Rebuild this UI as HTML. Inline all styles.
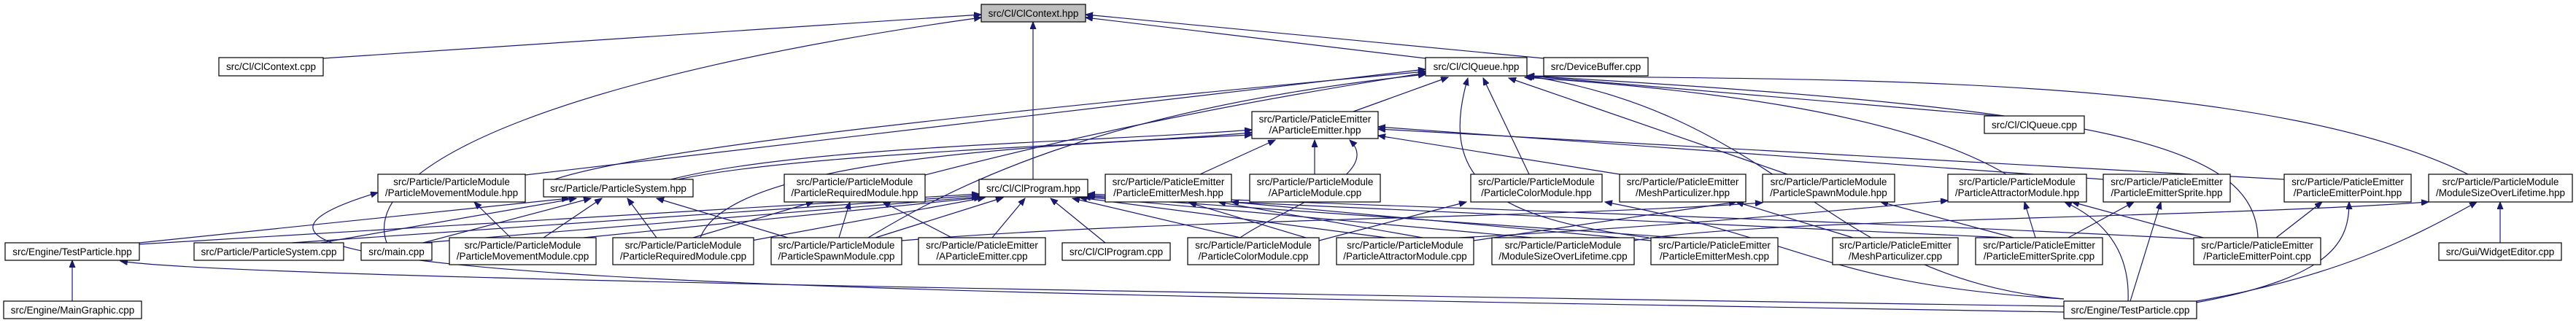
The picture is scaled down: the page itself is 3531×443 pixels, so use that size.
<!DOCTYPE html>
<html><head><meta charset="utf-8"><style>
html,body{margin:0;padding:0;background:#fff;}
svg{display:block;}
text{font-family:"Liberation Sans",Arial,sans-serif;font-size:13.5px;fill:#000;}
.e{fill:none;stroke:#191970;stroke-width:1.2;marker-end:url(#a);}
.n{fill:#fff;stroke:#000;stroke-width:1.2;}
</style></head><body>
<svg width="3531" height="443" viewBox="0 0 3531 443" xmlns="http://www.w3.org/2000/svg">
<defs><marker id="a" markerUnits="userSpaceOnUse" markerWidth="11" markerHeight="9" refX="10" refY="4" orient="auto"><path d="M0,0 L10,4 L0,8 z" fill="#191970" stroke="#191970"/></marker></defs>
<g>
<path class="e" d="M443,80 L1345,20"/>
<path class="e" d="M530,333 C490,220 800,100 1345,24"/>
<path class="e" d="M1416,246 L1416,30"/>
<path class="e" d="M1954,80 L1488,24"/>
<path class="e" d="M2116,80 L1488,20"/>
<path class="e" d="M720,240 L1954,95"/>
<path class="e" d="M760,246 C900,200 1400,150 1954,98"/>
<path class="e" d="M1268,240 C1500,180 1700,140 1954,100"/>
<path class="e" d="M1190,326 C1300,260 1500,150 1954,102"/>
<path class="e" d="M1855,153 L1985,106"/>
<path class="e" d="M2096,239 L2033,107"/>
<path class="e" d="M2260,326 C2050,300 1970,250 2012,107"/>
<path class="e" d="M2450,239 L2068,107"/>
<path class="e" d="M2750,239 C2600,150 2300,120 2090,106"/>
<path class="e" d="M2740,159 L2093,104"/>
<path class="e" d="M3383,239 C3100,100 2500,110 2093,104"/>
<path class="e" d="M3095,326 C3090,200 2900,150 2093,104"/>
<path class="e" d="M2829,410 C2500,380 2450,160 2093,104"/>
<path class="e" d="M930,246 C1100,210 1500,200 1716,182"/>
<path class="e" d="M920,246 C1100,200 1500,195 1716,178"/>
<path class="e" d="M960,326 C1000,220 1400,200 1716,185"/>
<path class="e" d="M1645,239 L1748,192"/>
<path class="e" d="M1802,239 L1802,192"/>
<path class="e" d="M1700,326 C1750,290 1900,240 1850,192"/>
<path class="e" d="M2220,239 L1889,186"/>
<path class="e" d="M2883,246 L1889,174"/>
<path class="e" d="M3131,246 L1889,177"/>
<path class="e" d="M400,333 L1342,268"/>
<path class="e" d="M580,333 L1342,270"/>
<path class="e" d="M800,326 L1345,271"/>
<path class="e" d="M1030,330 L1350,271"/>
<path class="e" d="M1200,326 L1375,271"/>
<path class="e" d="M1360,326 L1405,272"/>
<path class="e" d="M1515,333 L1440,272"/>
<path class="e" d="M1700,326 L1470,272"/>
<path class="e" d="M1900,326 L1480,271"/>
<path class="e" d="M2100,326 L1485,270"/>
<path class="e" d="M2300,326 L1490,269"/>
<path class="e" d="M2750,326 L1491,268"/>
<path class="e" d="M3050,330 C2500,300 1800,280 1491,266"/>
<path class="e" d="M191,335 L1342,266"/>
<path class="e" d="M191,333 L780,272"/>
<path class="e" d="M440,333 L790,272"/>
<path class="e" d="M580,333 L810,272"/>
<path class="e" d="M745,326 L825,272"/>
<path class="e" d="M900,326 L860,272"/>
<path class="e" d="M1080,326 L900,272"/>
<path class="e" d="M2829,428 C1200,400 100,390 518,264"/>
<path class="e" d="M2829,420 C1500,400 300,380 165,358"/>
<path class="e" d="M700,326 L650,277"/>
<path class="e" d="M950,326 L1115,277"/>
<path class="e" d="M1150,326 L1165,277"/>
<path class="e" d="M1305,326 L1210,277"/>
<path class="e" d="M2263,330 L1688,277"/>
<path class="e" d="M1790,326 L1630,278"/>
<path class="e" d="M1950,326 L1670,277"/>
<path class="e" d="M1808,330 L2010,277"/>
<path class="e" d="M2829,410 C2500,390 2480,330 2200,277"/>
<path class="e" d="M2540,326 L2380,277"/>
<path class="e" d="M2020,330 L2380,277"/>
<path class="e" d="M1236,330 C1600,300 2100,300 2416,278"/>
<path class="e" d="M2760,326 L2578,277"/>
<path class="e" d="M2000,326 C2300,310 2500,290 2670,275"/>
<path class="e" d="M2790,326 L2775,277"/>
<path class="e" d="M2917,413 C2920,340 2880,300 2830,277"/>
<path class="e" d="M3020,326 L2840,277"/>
<path class="e" d="M2835,326 L2925,277"/>
<path class="e" d="M2920,413 L2962,277"/>
<path class="e" d="M3120,326 L3183,277"/>
<path class="e" d="M3010,415 C3200,380 3220,330 3220,277"/>
<path class="e" d="M2240,330 C2400,300 3000,300 3329,277"/>
<path class="e" d="M3427,333 L3427,277"/>
<path class="e" d="M3011,413 C3200,380 3300,330 3395,277"/>
<path class="e" d="M99,413 L99,357"/>
</g>
<g>
<rect x="1345" y="6" width="143" height="24" fill="#bfbfbf" stroke="#000" stroke-width="1.2"/><text x="1416.5" y="23" text-anchor="middle">src/Cl/ClContext.hpp</text>
<rect class="n" x="300" y="79" width="143" height="25"/><text x="371.5" y="96" text-anchor="middle">src/Cl/ClContext.cpp</text>
<rect class="n" x="1954" y="79" width="139" height="25"/><text x="2023.5" y="96" text-anchor="middle">src/Cl/ClQueue.hpp</text>
<rect class="n" x="2116" y="79" width="143" height="25"/><text x="2187.5" y="96" text-anchor="middle">src/DeviceBuffer.cpp</text>
<rect class="n" x="1716" y="153" width="173" height="37"/><text x="1802.5" y="168" text-anchor="middle">src/Particle/PaticleEmitter</text><text x="1802.5" y="183" text-anchor="middle">/AParticleEmitter.hpp</text>
<rect class="n" x="2720" y="159" width="137" height="24"/><text x="2788.5" y="176" text-anchor="middle">src/Cl/ClQueue.cpp</text>

<rect class="n" x="518" y="239" width="202" height="38"/><text x="619" y="254" text-anchor="middle">src/Particle/ParticleModule</text><text x="619" y="269" text-anchor="middle">/ParticleMovementModule.hpp</text>
<rect class="n" x="745" y="246" width="205" height="24"/><text x="847.5" y="263" text-anchor="middle">src/Particle/ParticleSystem.hpp</text>
<rect class="n" x="1075" y="239" width="193" height="38"/><text x="1171.5" y="254" text-anchor="middle">src/Particle/ParticleModule</text><text x="1171.5" y="269" text-anchor="middle">/ParticleRequiredModule.hpp</text>
<rect class="n" x="1342" y="246" width="149" height="24"/><text x="1416.5" y="263" text-anchor="middle">src/Cl/ClProgram.hpp</text>
<rect class="n" x="1515" y="239" width="173" height="38"/><text x="1601.5" y="254" text-anchor="middle">src/Particle/PaticleEmitter</text><text x="1601.5" y="269" text-anchor="middle">/ParticleEmitterMesh.hpp</text>
<rect class="n" x="1713" y="239" width="179" height="38"/><text x="1802.5" y="254" text-anchor="middle">src/Particle/ParticleModule</text><text x="1802.5" y="269" text-anchor="middle">/AParticleModule.cpp</text>
<rect class="n" x="2016" y="239" width="180" height="38"/><text x="2106" y="254" text-anchor="middle">src/Particle/ParticleModule</text><text x="2106" y="269" text-anchor="middle">/ParticleColorModule.hpp</text>
<rect class="n" x="2220" y="239" width="173" height="38"/><text x="2306.5" y="254" text-anchor="middle">src/Particle/PaticleEmitter</text><text x="2306.5" y="269" text-anchor="middle">/MeshParticulizer.hpp</text>
<rect class="n" x="2416" y="239" width="181" height="38"/><text x="2506.5" y="254" text-anchor="middle">src/Particle/ParticleModule</text><text x="2506.5" y="269" text-anchor="middle">/ParticleSpawnModule.hpp</text>
<rect class="n" x="2670" y="239" width="190" height="38"/><text x="2765" y="254" text-anchor="middle">src/Particle/ParticleModule</text><text x="2765" y="269" text-anchor="middle">/ParticleAttractorModule.hpp</text>
<rect class="n" x="2883" y="239" width="174" height="38"/><text x="2970" y="254" text-anchor="middle">src/Particle/PaticleEmitter</text><text x="2970" y="269" text-anchor="middle">/ParticleEmitterSprite.hpp</text>
<rect class="n" x="3131" y="239" width="174" height="38"/><text x="3218" y="254" text-anchor="middle">src/Particle/PaticleEmitter</text><text x="3218" y="269" text-anchor="middle">/ParticleEmitterPoint.hpp</text>
<rect class="n" x="3329" y="239" width="197" height="38"/><text x="3427.5" y="254" text-anchor="middle">src/Particle/ParticleModule</text><text x="3427.5" y="269" text-anchor="middle">/ModuleSizeOverLifetime.hpp</text>

<rect class="n" x="7" y="333" width="184" height="24"/><text x="99" y="350" text-anchor="middle">src/Engine/TestParticle.hpp</text>
<rect class="n" x="266" y="333" width="205" height="24"/><text x="368.5" y="350" text-anchor="middle">src/Particle/ParticleSystem.cpp</text>
<rect class="n" x="495" y="333" width="97" height="24"/><text x="543.5" y="350" text-anchor="middle">src/main.cpp</text>
<rect class="n" x="616" y="326" width="201" height="37"/><text x="716.5" y="341" text-anchor="middle">src/Particle/ParticleModule</text><text x="716.5" y="356" text-anchor="middle">/ParticleMovementModule.cpp</text>
<rect class="n" x="840" y="326" width="193" height="37"/><text x="936.5" y="341" text-anchor="middle">src/Particle/ParticleModule</text><text x="936.5" y="356" text-anchor="middle">/ParticleRequiredModule.cpp</text>
<rect class="n" x="1057" y="326" width="179" height="37"/><text x="1146.5" y="341" text-anchor="middle">src/Particle/ParticleModule</text><text x="1146.5" y="356" text-anchor="middle">/ParticleSpawnModule.cpp</text>
<rect class="n" x="1259" y="326" width="174" height="37"/><text x="1346" y="341" text-anchor="middle">src/Particle/PaticleEmitter</text><text x="1346" y="356" text-anchor="middle">/AParticleEmitter.cpp</text>
<rect class="n" x="1456" y="333" width="148" height="24"/><text x="1530" y="350" text-anchor="middle">src/Cl/ClProgram.cpp</text>
<rect class="n" x="1628" y="326" width="180" height="37"/><text x="1718" y="341" text-anchor="middle">src/Particle/ParticleModule</text><text x="1718" y="356" text-anchor="middle">/ParticleColorModule.cpp</text>
<rect class="n" x="1832" y="326" width="188" height="37"/><text x="1926" y="341" text-anchor="middle">src/Particle/ParticleModule</text><text x="1926" y="356" text-anchor="middle">/ParticleAttractorModule.cpp</text>
<rect class="n" x="2045" y="326" width="195" height="37"/><text x="2142.5" y="341" text-anchor="middle">src/Particle/ParticleModule</text><text x="2142.5" y="356" text-anchor="middle">/ModuleSizeOverLifetime.cpp</text>
<rect class="n" x="2263" y="326" width="174" height="37"/><text x="2350" y="341" text-anchor="middle">src/Particle/PaticleEmitter</text><text x="2350" y="356" text-anchor="middle">/ParticleEmitterMesh.cpp</text>
<rect class="n" x="2512" y="326" width="172" height="37"/><text x="2598" y="341" text-anchor="middle">src/Particle/PaticleEmitter</text><text x="2598" y="356" text-anchor="middle">/MeshParticulizer.cpp</text>
<rect class="n" x="2708" y="326" width="174" height="37"/><text x="2795" y="341" text-anchor="middle">src/Particle/PaticleEmitter</text><text x="2795" y="356" text-anchor="middle">/ParticleEmitterSprite.cpp</text>
<rect class="n" x="3007" y="326" width="174" height="37"/><text x="3094" y="341" text-anchor="middle">src/Particle/PaticleEmitter</text><text x="3094" y="356" text-anchor="middle">/ParticleEmitterPoint.cpp</text>
<rect class="n" x="3343" y="333" width="168" height="24"/><text x="3427" y="350" text-anchor="middle">src/Gui/WidgetEditor.cpp</text>

<rect class="n" x="5" y="413" width="189" height="24"/><text x="99.5" y="430" text-anchor="middle">src/Engine/MainGraphic.cpp</text>
<rect class="n" x="2829" y="413" width="182" height="24"/><text x="2920" y="430" text-anchor="middle">src/Engine/TestParticle.cpp</text>
</g>
</svg>
</body></html>
